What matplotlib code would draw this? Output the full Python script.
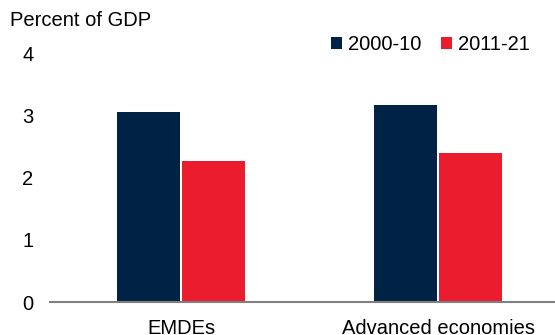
import numpy as np
import matplotlib.pyplot as plt

plt.rcParams['font.family'] = ['Liberation Sans', 'DejaVu Sans']

categories = ["EMDEs", "Advanced economies"]
series_names = ["2000-10", "2011-21"]
vals_2000_10 = [3.06, 3.18]
vals_2011_21 = [2.27, 2.40]
colors = ["#002345", "#EB1C2D"]

fig = plt.figure(figsize=(5.55, 3.35), dpi=100)
ax = fig.add_axes([0.09, 0.0985, 0.91, 0.7405])

x = np.arange(len(categories))
w = 0.245
b1 = ax.bar(x - 0.1275, vals_2000_10, width=w, color=colors[0], label=series_names[0])
b2 = ax.bar(x + 0.1275, vals_2011_21, width=w, color=colors[1], label=series_names[1])

ax.set_xlim(-0.51, 1.455)
ax.set_ylim(0, 4)
ax.set_yticks([0, 1, 2, 3, 4])
ax.set_xticks(x)
ax.set_xticklabels(categories)
ax.tick_params(axis='both', length=0, labelsize=14.5, colors='black')
ax.tick_params(axis='y', pad=12)
ax.tick_params(axis='x', pad=12)
for s in ['top', 'right', 'left']:
    ax.spines[s].set_visible(False)
ax.spines['bottom'].set_color('#808080')
ax.spines['bottom'].set_linewidth(1.5)

fig.text(0.018, 0.94, "Percent of GDP", fontsize=14.5, va='center', ha='left')

fig.legend(handles=[b1, b2], loc='center right', bbox_to_anchor=(0.97, 0.866),
           ncol=2, frameon=False, fontsize=14.5, handlelength=0.55, handleheight=0.55,
           handletextpad=0.3, columnspacing=1.0, borderaxespad=0)

fig.savefig("out.png", dpi=100)
